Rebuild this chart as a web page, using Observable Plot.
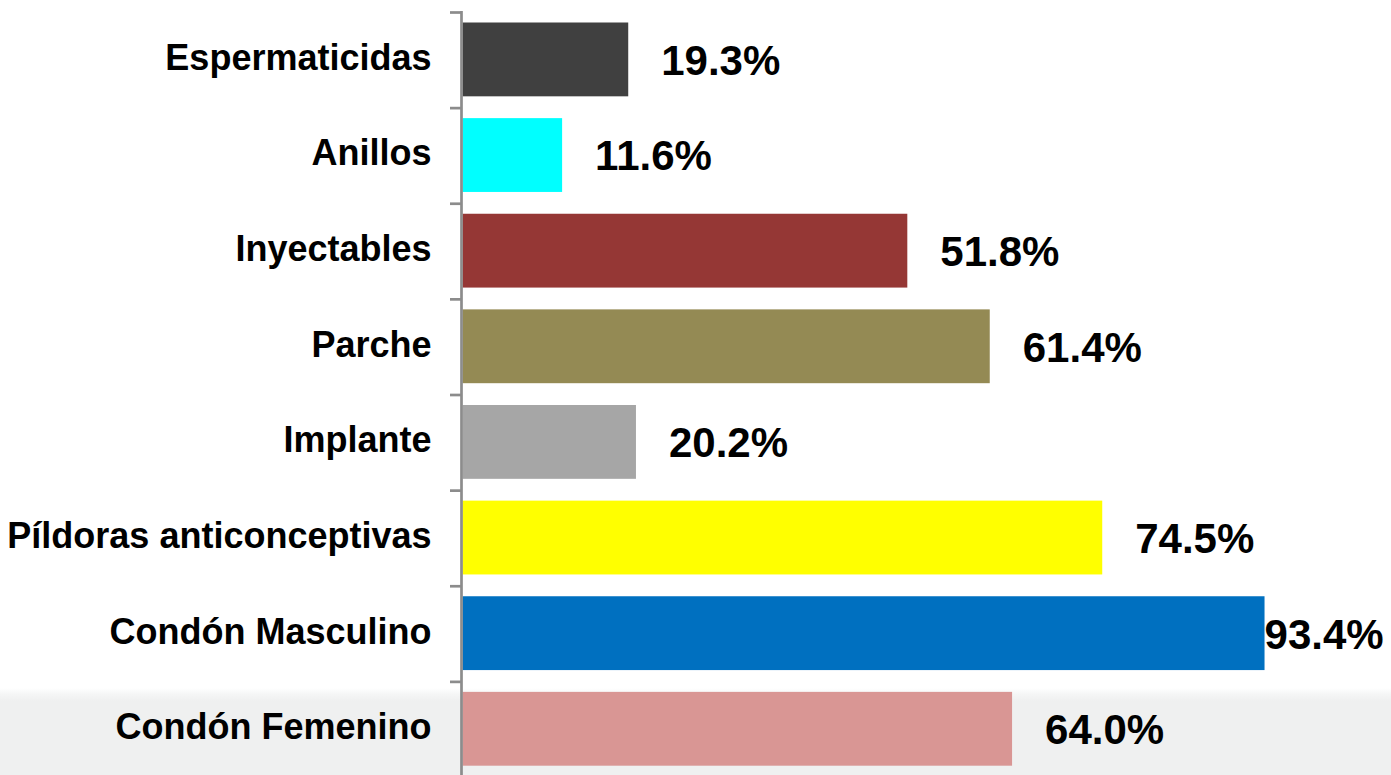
<!DOCTYPE html>
<html>
<head>
<meta charset="utf-8">
<script src="https://cdn.jsdelivr.net/npm/d3@7"></script>
<script src="https://cdn.jsdelivr.net/npm/@observablehq/plot@0.6"></script>
<style>
  html, body { margin: 0; padding: 0; }
  body {
    width: 1391px; height: 775px; overflow: hidden;
    background: linear-gradient(to bottom, #ffffff 0px, #ffffff 688px, #f5f6f6 694px, #eff0f0 701px, #eff0f0 775px);
    font-family: "Liberation Sans", Arial, sans-serif;
  }
  #chart svg { display: block; background: transparent; }
</style>
</head>
<body>
<div id="chart"></div>
<script>
const categories = ["Espermaticidas", "Anillos", "Inyectables", "Parche", "Implante", "Píldoras anticonceptivas", "Condón Masculino", "Condón Femenino"];
const values = [19.3, 11.6, 51.8, 61.4, 20.2, 74.5, 93.4, 64.0];
const colors = ["#404040", "#00FFFF", "#953735", "#948A54", "#A6A6A6", "#FFFF00", "#0070C0", "#D99694"];

const rows = categories.map((c, i) => ({category: c, value: values[i], color: colors[i]}));

const width = 1391, height = 775;
const marginLeft = 461, marginRight = 71.3, marginTop = 11, marginBottom = 0;
const yRange = [12, 777];
const step = (yRange[1] - yRange[0]) / categories.length;
const xMax = 100;
const pxPerUnit = (width - marginLeft - marginRight) / xMax;
const fits = d => marginLeft + d.value * pxPerUnit + 33 + 120 <= width;

const chart = Plot.plot({
  width, height, marginLeft, marginRight, marginTop, marginBottom,
  style: {background: "transparent", fontFamily: "'Liberation Sans', Arial, sans-serif"},
  x: {domain: [0, xMax], axis: null},
  y: {domain: categories, range: yRange, padding: 0, round: false, axis: null},
  marks: [
    Plot.barX(rows, {x: "value", y: "category", fill: "color", insetTop: 10.5, insetBottom: 11.3, dx: 1.5}),
    Plot.ruleX([0], {stroke: "#8c8c8c", strokeWidth: 2.7}),
    Plot.ruleY(categories, {y: d => d, x1: -11 / pxPerUnit, x2: 0, dy: -step / 2, stroke: "#8c8c8c", strokeWidth: 2.7}),
    Plot.text(categories, {x: 0, y: d => d, text: d => d, textAnchor: "end", dx: -30, dy: -2, fontSize: 36, fontWeight: "bold", fill: "#000"}),
    Plot.text(rows, {filter: fits, x: "value", y: "category", text: d => d.value.toFixed(1) + "%", textAnchor: "start", dx: 34, dy: 1, fontSize: 42, fontWeight: "bold", fill: "#000"}),
    Plot.text(rows, {filter: d => !fits(d), x: "value", y: "category", text: d => d.value.toFixed(1) + "%", textAnchor: "start", dx: 1, dy: 1, fontSize: 42, fontWeight: "bold", fill: "#000"})
  ]
});
document.getElementById("chart").appendChild(chart);
</script>
</body>
</html>
